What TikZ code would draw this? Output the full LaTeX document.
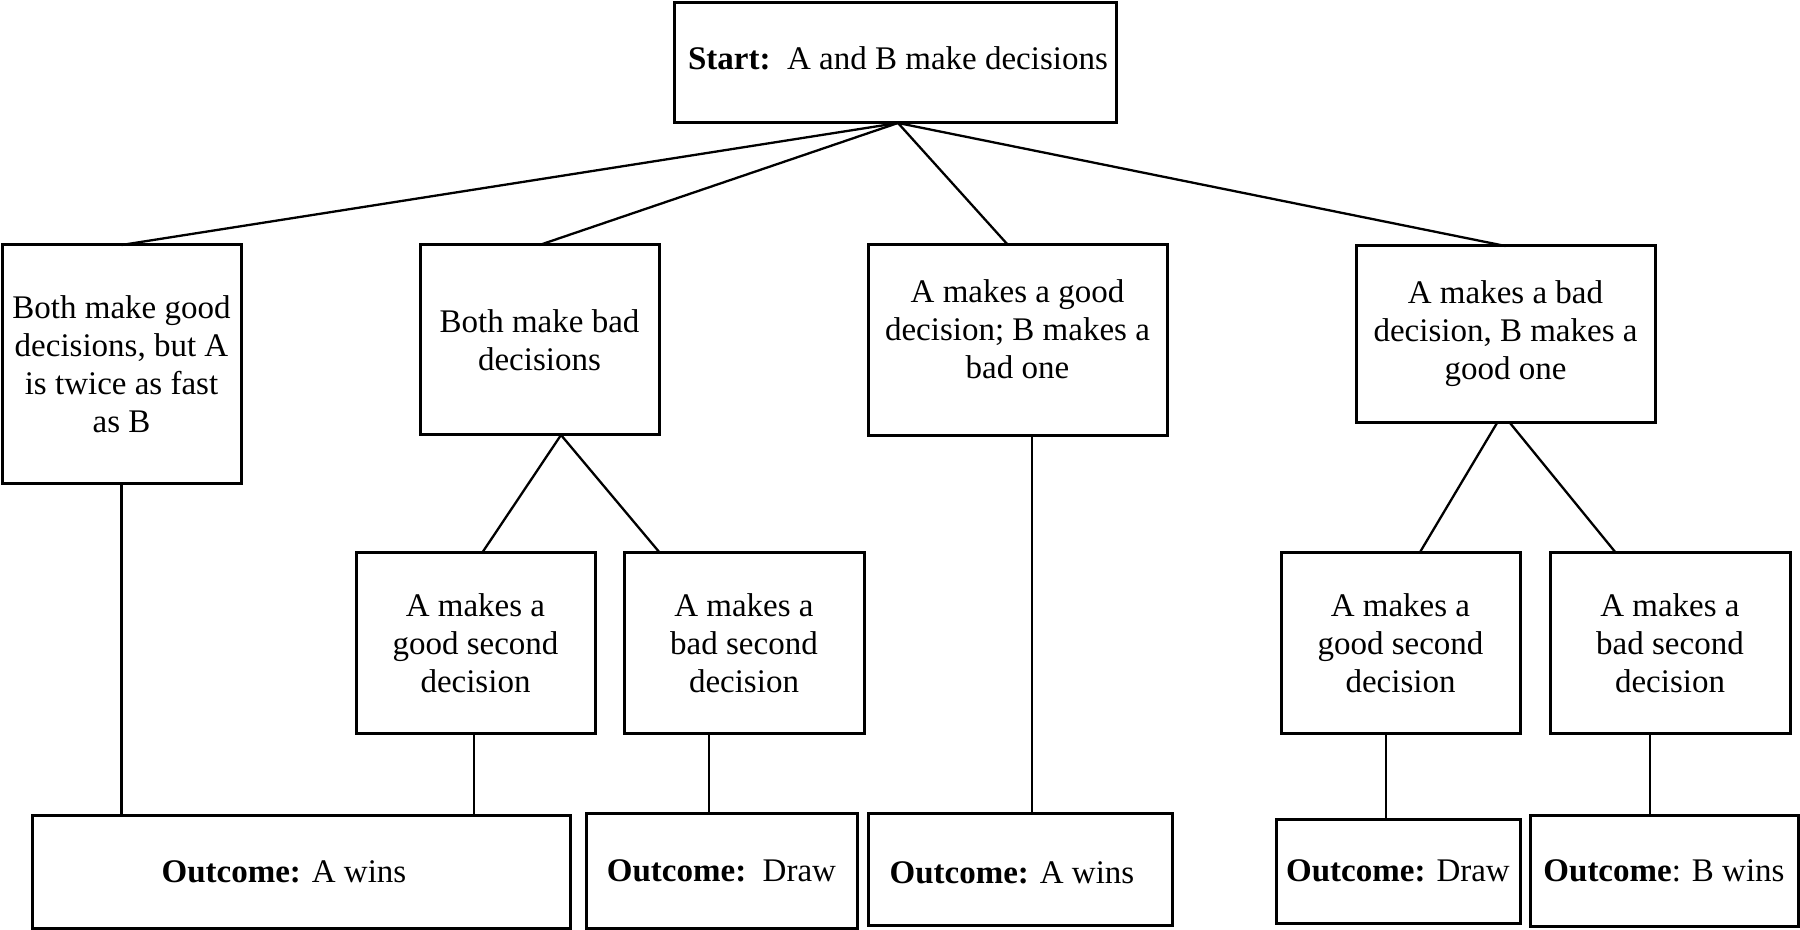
\documentclass[tikz,border=0pt]{standalone}
\usepackage{fontspec}
\setmainfont{Liberation Serif}
\usetikzlibrary{calc}
\begin{document}
\begin{tikzpicture}[x=0.5pt,y=-0.5pt,
  bx/.style={draw=black,line width=1.5pt,inner sep=0pt,outer sep=0pt,align=center,
    font=\fontsize{16.5pt}{19pt}\selectfont},
  lbl/.style={align=center,inner sep=0pt,font=\fontsize{16.5pt}{19pt}\selectfont},
  ln/.style={draw=black,line width=1.15pt}]
\useasboundingbox (0,0) rectangle (1800,930);
% top
\node[bx,minimum width=221pt,minimum height=60pt,
  label={[lbl,name=st,xshift=1.5pt,yshift=2.5pt]center:\textbf{Start:}\ \ A and B make decisions}] (s) at (895,63) {};
% level 1
\node[bx,minimum width=119.5pt,minimum height=119.5pt] (b1) at (121.5,364.5)
  {Both make good\\decisions, but A\\is twice as fast\\as B};
\node[bx,minimum width=119.5pt,minimum height=95pt] (b2) at (539.5,340)
  {Both make bad\\decisions};
\node[bx,minimum width=149.5pt,minimum height=95.5pt,
  label={[lbl,name=b3t,yshift=5.75pt]center:A makes a good\\decision; B makes a\\bad one}] (b3) at (1017.5,340.5) {};
\node[bx,minimum width=149.5pt,minimum height=88.5pt,
  label={[lbl,name=b4t,yshift=0.5pt]center:A makes a bad\\decision, B makes a\\good one}] (b4) at (1505.5,334.5) {};
% level 2
\node[bx,minimum width=119.5pt,minimum height=90pt] (b5) at (475.5,643)
  {A makes a\\good second\\decision};
\node[bx,minimum width=120pt,minimum height=90pt] (b6) at (744,643)
  {A makes a\\bad second\\decision};
\node[bx,minimum width=119.5pt,minimum height=90pt] (b7) at (1400.5,643)
  {A makes a\\good second\\decision};
\node[bx,minimum width=120pt,minimum height=90pt] (b8) at (1670,643)
  {A makes a\\bad second\\decision};
% outcomes
\node[bx,minimum width=269pt,minimum height=56.5pt,
  label={[lbl,name=o1t,xshift=-8.5pt]center:\textbf{Outcome:} A wins}] (o1) at (301,871.5) {};
\node[bx,minimum width=135.5pt,minimum height=57.5pt] (o2) at (721.5,870.5)
  {\textbf{Outcome:}\ \ Draw};
\node[bx,minimum width=152pt,minimum height=56pt,
  label={[lbl,name=o3t,xshift=-4pt,yshift=-2pt]center:\textbf{Outcome:} A wins}] (o3) at (1020,869) {};
\node[bx,minimum width=122pt,minimum height=52pt] (o4) at (1398,871)
  {\textbf{Outcome:} Draw};
\node[bx,minimum width=134pt,minimum height=55.5pt] (o5) at (1664,870.5)
  {\textbf{Outcome}: B wins};
% connectors from start
\coordinate (sa) at ([xshift=1.5pt]s.south);
\draw[ln] (sa) -- (b1.north);
\draw[ln] (sa) -- (b2.north);
\draw[ln] (sa) -- ([xshift=-4.75pt]b3.north);
\draw[ln] (sa) -- (b4.north);
% b2 children
\draw[ln] ([xshift=10.75pt]b2.south) -- ([xshift=3.25pt]b5.north);
\draw[ln] ([xshift=10.75pt]b2.south) -- ([xshift=-42pt]b6.north);
% b4 children
\draw[ln] ([xshift=-4.25pt]b4.south) -- ([xshift=9.5pt]b7.north);
\draw[ln] ([xshift=2.25pt]b4.south) -- ([xshift=-27pt]b8.north);
% verticals
\draw[ln] (b1.south) -- (b1.south |- o1.north);
\draw[ln] ([xshift=-0.75pt]b5.south) -- ([xshift=-0.75pt]b5.south |- o1.north);
\draw[ln] ([xshift=-17.5pt]b6.south) -- ([xshift=-17.5pt]b6.south |- o2.north);
\draw[ln] ([xshift=7.25pt]b3.south) -- ([xshift=7.25pt]b3.south |- o3.north);
\draw[ln] ([xshift=-7.25pt]b7.south) -- ([xshift=-7.25pt]b7.south |- o4.north);
\draw[ln] ([xshift=-10pt]b8.south) -- ([xshift=-10pt]b8.south |- o5.north);
\end{tikzpicture}
\end{document}
